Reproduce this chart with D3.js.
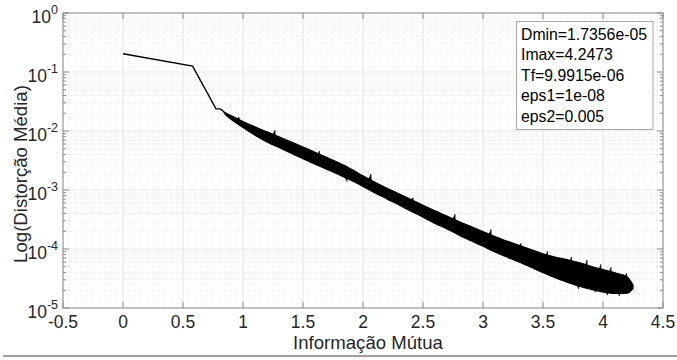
<!DOCTYPE html>
<html><head><meta charset="utf-8">
<script src="https://cdn.jsdelivr.net/npm/d3@7"></script>
<style>
html,body{margin:0;padding:0;background:#fff;}
svg{display:block;font-family:"Liberation Sans",Arial,Helvetica,sans-serif;}
</style></head>
<body>
<svg id="chart" width="677" height="360"></svg>
<script>
// ---- data ----
const xTicks = [-0.5, 0, 0.5, 1, 1.5, 2, 2.5, 3, 3.5, 4, 4.5];
const xTickLabels = ["-0.5","0","0.5","1","1.5","2","2.5","3","3.5","4","4.5"];
const yTicks = [1, 1e-1, 1e-2, 1e-3, 1e-4, 1e-5];
const yTickExponents = ["0","-1","-2","-3","-4","-5"];

// initial (sparse) part of the curve
const leadX = [0, 0.58, 0.775, 0.81, 0.83, 0.85];
const leadY = [0.204, 0.126, 0.0237, 0.0237, 0.0222, 0.0200];

// dense noisy part: envelope of the band
const bandX = [0.85,0.90,1.0,1.1,1.2,1.3,1.4,1.5,1.6,1.7,1.8,1.9,2.0,2.1,2.2,2.3,2.4,2.5,2.6,2.7,2.8,2.9,3.0,3.1,3.2,3.3,3.4,3.5,3.6,3.7,3.8,3.9,4.0,4.1,4.2,4.25];
const bandUpper = [0.02065,0.0182,0.01445,0.01175,0.00966,0.00794,0.00653,0.00537,0.00437,0.00355,0.00288,0.00226,0.00174,0.00135,0.00107,0.000861,0.000692,0.00055,0.000442,0.000363,0.000292,0.00024,0.000197,0.000162,0.000136,0.000115,9.77e-5,8.32e-5,7.33e-5,6.61e-5,5.89e-5,5.07e-5,4.47e-5,3.94e-5,3.39e-5,2.45e-5];
const bandLower = [0.01928,0.01585,0.01148,0.00851,0.00653,0.00525,0.00422,0.00339,0.00275,0.00224,0.00182,0.00146,0.00115,0.000891,0.000708,0.000556,0.000437,0.000347,0.000272,0.000219,0.000172,0.000138,0.000111,8.91e-5,7.33e-5,6.03e-5,4.9e-5,3.98e-5,3.27e-5,2.75e-5,2.34e-5,2.07e-5,1.86e-5,1.76e-5,1.78e-5,2.14e-5];

// spikes sticking out of the band (tip positions)
const spikeX = [0.95,1.05,1.25,1.45,1.62,1.85,2.05,2.2,2.4,2.55,2.75,2.95,3.05,3.2,3.3,3.45,3.52,3.62,3.72,3.78,3.85,3.92,3.965,4.02,4.05,4.12,4.18];
const spikeY = [0.0172,0.0118,0.0103,0.0041,0.0046,0.0014,0.00187,0.00066,0.00074,0.00031,0.00039,0.000128,0.000215,6.8e-5,0.000125,4.4e-5,9.1e-5,3.0e-5,7.3e-5,2.1e-5,6.5e-5,1.85e-5,5.5e-5,1.65e-5,4.9e-5,1.6e-5,3.9e-5];

const legendLines = ["Dmin=1.7356e-05","Imax=4.2473","Tf=9.9915e-06","eps1=1e-08","eps2=0.005"];
const xLabel = "Informação Mútua";
const yLabel = "Log(Distorção Média)";

// ---- layout ----
const L = 63, R = 663, T = 13, B = 308;
const svg = d3.select("#chart");
const x = d3.scaleLinear().domain([-0.5, 4.5]).range([L, R]);
const y = d3.scaleLog().domain([1e-5, 1]).range([B, T]);

// grid
const g = svg.append("g");
const minorX = d3.range(-0.5, 4.5001, 0.05);
g.selectAll("line.mx").data(minorX).enter().append("line")
  .attr("x1", d => x(d)).attr("x2", d => x(d)).attr("y1", T).attr("y2", B)
  .attr("stroke", "#ebebeb").attr("stroke-width", 0.8).attr("stroke-dasharray", "1,1");
const minorY = [];
for (let e = -5; e < 0; e++) for (let k = 2; k <= 9; k++) minorY.push(k * Math.pow(10, e));
g.selectAll("line.my").data(minorY).enter().append("line")
  .attr("x1", L).attr("x2", R).attr("y1", d => y(d)).attr("y2", d => y(d))
  .attr("stroke", "#ebebeb").attr("stroke-width", 0.8).attr("stroke-dasharray", "1,1");
g.selectAll("line.gx").data(xTicks).enter().append("line")
  .attr("x1", d => x(d)).attr("x2", d => x(d)).attr("y1", T).attr("y2", B)
  .attr("stroke", "#e3e3e3").attr("stroke-width", 0.8);
g.selectAll("line.gy").data(yTicks).enter().append("line")
  .attr("x1", L).attr("x2", R).attr("y1", d => y(d)).attr("y2", d => y(d))
  .attr("stroke", "#e3e3e3").attr("stroke-width", 0.8);

// data
const lead = leadX.map((d, i) => [d, leadY[i]]);
svg.append("path").datum(lead)
  .attr("d", d3.line().x(d => x(d[0])).y(d => y(d[1])))
  .attr("fill", "none").attr("stroke", "#000").attr("stroke-width", 1.4);

const band = bandX.map((d, i) => ({x: d, u: bandUpper[i], l: bandLower[i]}));
svg.append("path").datum(band)
  .attr("d", d3.area().x(d => x(d.x)).y0(d => y(d.l)).y1(d => y(d.u)).curve(d3.curveMonotoneX))
  .attr("fill", "#000").attr("stroke", "#000").attr("stroke-width", 1.2);

const centerAt = xv => {
  const i = d3.bisectLeft(bandX, xv);
  const i0 = Math.max(0, i - 1), i1 = Math.min(bandX.length - 1, i);
  return Math.sqrt(bandUpper[i0] * bandLower[i1]);
};
// thin triangles from band centre to each tip
svg.selectAll("path.spike").data(spikeX).enter().append("path")
  .attr("d", (d, i) => {
    const cx = x(d), cy = y(centerAt(d));
    const tx = x(d) + 2, ty = y(spikeY[i]);
    return `M${cx - 2.5},${cy}L${tx},${ty}L${cx + 2.5},${cy}Z`;
  })
  .attr("fill", "#000").attr("stroke", "#000").attr("stroke-width", 0.6);

// axes box
const axisColor = "#8c8c8c";
svg.append("rect").attr("x", L).attr("y", T).attr("width", R - L).attr("height", B - T)
  .attr("fill", "none").attr("stroke", axisColor).attr("stroke-width", 1);

// ticks (inward)
const tk = svg.append("g").attr("stroke", axisColor).attr("stroke-width", 1);
xTicks.forEach(d => {
  tk.append("line").attr("x1", x(d)).attr("x2", x(d)).attr("y1", B).attr("y2", B - 6);
  tk.append("line").attr("x1", x(d)).attr("x2", x(d)).attr("y1", T).attr("y2", T + 6);
});
yTicks.forEach(d => {
  tk.append("line").attr("x1", L).attr("x2", L + 6).attr("y1", y(d)).attr("y2", y(d));
  tk.append("line").attr("x1", R).attr("x2", R - 6).attr("y1", y(d)).attr("y2", y(d));
});
minorY.forEach(d => {
  tk.append("line").attr("x1", L).attr("x2", L + 3).attr("y1", y(d)).attr("y2", y(d));
  tk.append("line").attr("x1", R).attr("x2", R - 3).attr("y1", y(d)).attr("y2", y(d));
});

// tick labels
const txtColor = "#262626";
svg.selectAll("text.xt").data(xTicks).enter().append("text")
  .attr("x", d => x(d)).attr("y", B + 20).attr("text-anchor", "middle")
  .attr("font-size", 17.5).attr("fill", txtColor).text((d, i) => xTickLabels[i]);

yTicks.forEach((d, i) => {
  const t = svg.append("text").attr("x", 58).attr("y", y(d) + 10)
    .attr("text-anchor", "end").attr("font-size", 17.5).attr("fill", txtColor);
  t.append("tspan").text("10");
  t.append("tspan").attr("dy", -9).attr("font-size", 12.5).text(yTickExponents[i]);
});

// axis labels
svg.append("text").attr("x", 368).attr("y", 349).attr("text-anchor", "middle")
  .attr("font-size", 18.6).attr("fill", txtColor).text(xLabel);
svg.append("text").attr("transform", "translate(27,174) rotate(-90)")
  .attr("text-anchor", "middle").attr("font-size", 18.6).attr("fill", txtColor).text(yLabel);

// legend box
svg.append("rect").attr("x", 516.5).attr("y", 21.5).attr("width", 136.5).attr("height", 108)
  .attr("fill", "#fff").attr("stroke", "#a6a6a6").attr("stroke-width", 1);
legendLines.forEach((s, i) => {
  svg.append("text").attr("x", 521).attr("y", 40 + i * 20.4)
    .attr("font-size", 15.8).attr("fill", "#000").text(s);
});

// bottom separator line
svg.append("line").attr("x1", 3).attr("x2", 677).attr("y1", 356).attr("y2", 356)
  .attr("stroke", "#808080").attr("stroke-width", 1.5);
</script>
</body></html>
